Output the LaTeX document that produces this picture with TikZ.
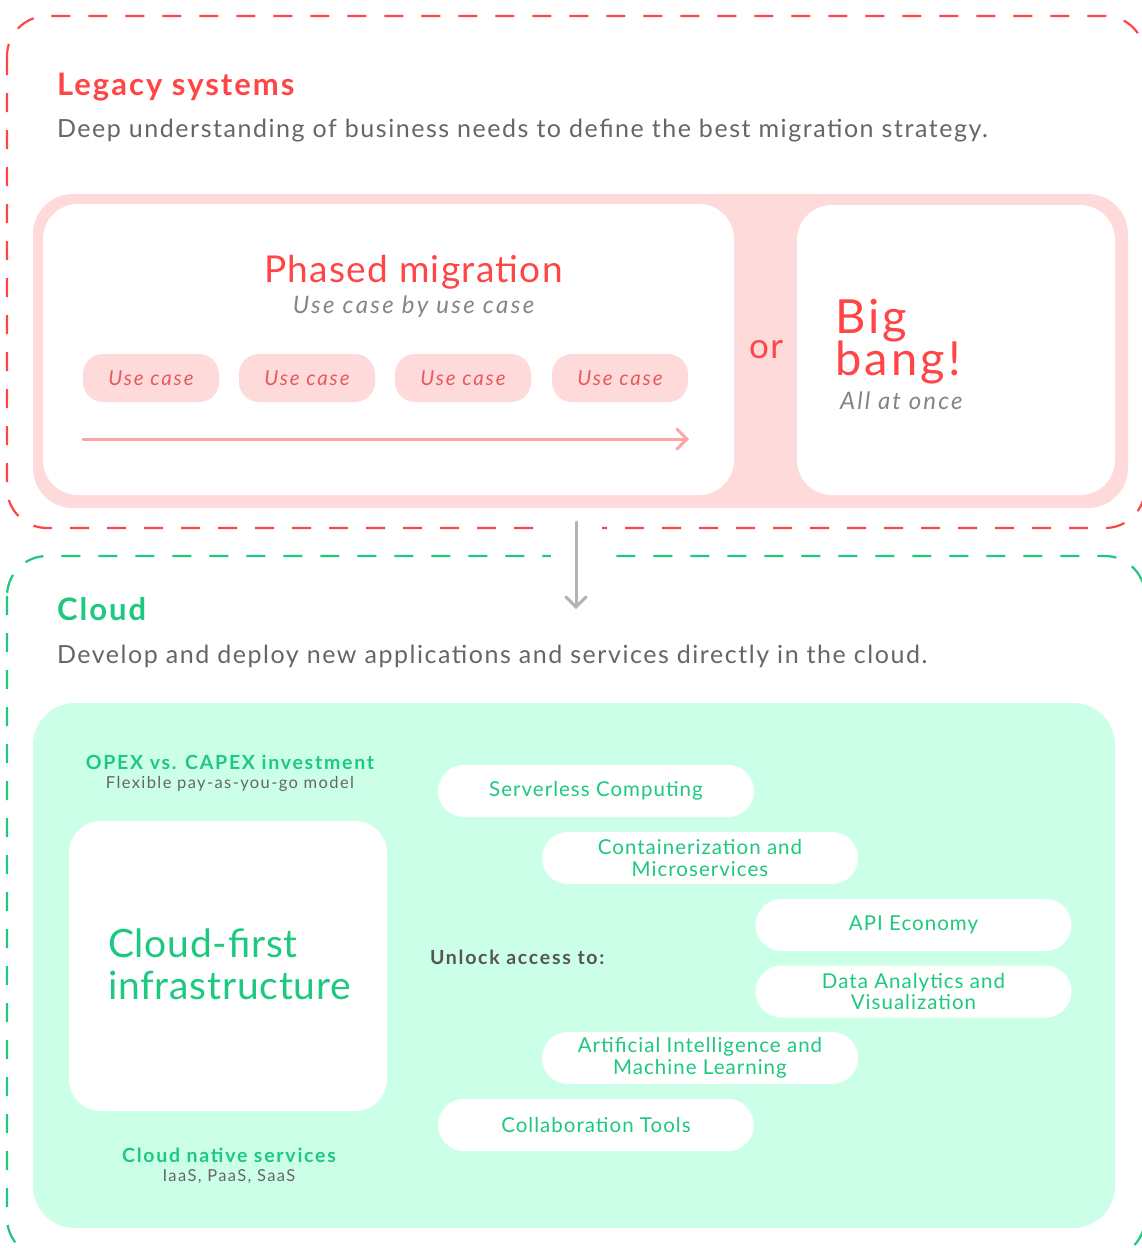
\documentclass[tikz,border=0pt]{standalone}
\usepackage{fontspec}
\setmainfont{Lato}[LetterSpace=5]
\usetikzlibrary{arrows.meta}
\definecolor{legred}{HTML}{FF4545}
\definecolor{pinkfill}{HTML}{FFDADA}
\definecolor{pinkarrow}{HTML}{FFA3A3}
\definecolor{usecasetxt}{HTML}{E65A5E}
\definecolor{cloudgreen}{HTML}{1CC97E}
\definecolor{mintfill}{HTML}{CCFFE8}
\definecolor{bodygray}{HTML}{666666}
\definecolor{subgray}{HTML}{858585}
\definecolor{darkgray}{HTML}{555555}
\definecolor{arrowgray}{HTML}{B3B3B3}
\newcommand{\ls}[1]{\addfontfeature{LetterSpace=#1}}
\newcommand{\twolines}[3]{\vtop{\baselineskip=#1\lineskiplimit=-100pt\hbox{#2}\hbox{#3}}}
\begin{document}
\begin{tikzpicture}[x=1pt,y=-1pt,
  every node/.style={inner sep=0pt, outer sep=0pt},
  dashframe/.style={line width=2.2pt, dash pattern=on 19pt off 18pt, rounded corners=40pt},
  usecasebox/.style={fill=pinkfill, rounded corners=20pt, minimum width=136pt, minimum height=48pt,
    text=usecasetxt, font=\itshape\fontsize{20.5}{24}\selectfont\ls{9}},
  pill/.style={fill=white, rounded corners=26pt, minimum width=316pt, minimum height=52pt,
    text=cloudgreen, align=center, font=\fontsize{20.5}{21.5}\selectfont\ls{5}},
  sectitle/.style={anchor=base west, font=\bfseries\fontsize{31}{36}\selectfont\ls{6.5}},
  secdesc/.style={anchor=base west, text=bodygray, font=\fontsize{25}{30}\selectfont\ls{6.2}},
  smallhead/.style={anchor=base, text=cloudgreen, font=\bfseries\fontsize{19.5}{22}\selectfont\ls{9}},
  smallsub/.style={anchor=base, text=bodygray, font=\fontsize{16.5}{19}\selectfont\ls{8.5}},
  flowarrow/.style={line width=3pt, line cap=round, -{Straight Barb[length=10pt,width=20pt,line cap=round]}}
]
\useasboundingbox (0,0) rectangle (1142,1248);
\clip (0,0) rectangle (1142,1248);
\fill[white] (0,0) rectangle (1142,1248);

% dashed section frames
\draw[dashframe, draw=legred] (7,16) rectangle (1145,528);
\draw[dashframe, draw=cloudgreen] (7,556) rectangle (1145,1258);

% ---------- Legacy systems ----------
\node[sectitle, text=legred] (legtitle) at (57,95) {Legacy systems};
\node[secdesc] (legdesc) at (57,137) {Deep understanding of business needs to define the best migration strategy.};

\node[fill=pinkfill, rounded corners=40pt, minimum width=1095pt, minimum height=314pt] (pinkframe) at (580.5,351) {};
\node[fill=white, rounded corners=35pt, minimum width=691pt, minimum height=291pt] (phasedbox) at (388.5,349.5) {};
\node[fill=white, rounded corners=35pt, minimum width=318pt, minimum height=290pt] (bigbox) at (956,350) {};

\node[anchor=base, text=legred, font=\fontsize{37}{44}\selectfont\ls{3.6}] (phasedtitle) at (413.5,282) {Phased migration};
\node[anchor=base, text=subgray, font=\itshape\fontsize{24}{28}\selectfont\ls{10}] (phasedsub) at (413.5,313) {Use case by use case};

\node[usecasebox] (uc1) at (151,378) {Use case};
\node[usecasebox] (uc2) at (307,378) {Use case};
\node[usecasebox] (uc3) at (463,378) {Use case};
\node[usecasebox] (uc4) at (620,378) {Use case};

\coordinate (phstart) at (83,439);
\coordinate (phend) at (689,439);
\draw[flowarrow, draw=pinkarrow] (phstart) -- (phend);

\node[anchor=base, text=legred, font=\fontsize{35}{40}\selectfont\ls{4}] (ortext) at (766,358) {or};

\node[anchor=base west, text=legred, font=\fontsize{47}{50}\selectfont\ls{6.8}] (bigbang) at (835,333) {\twolines{42pt}{Big}{bang!}};
\node[anchor=base west, text=subgray, font=\itshape\fontsize{24}{28}\selectfont\ls{9}] (allonce) at (840,409) {All at once};

% ---------- connector between sections ----------
\fill[white] (551,518) rectangle (602,566);
\coordinate (dstart) at (576,522);
\coordinate (dend) at (576,609);
\draw[flowarrow, draw=arrowgray] (dstart) -- (dend);

% ---------- Cloud ----------
\node[sectitle, text=cloudgreen] (cloudtitle) at (57,620) {Cloud};
\node[secdesc] (clouddesc) at (57,663) {Develop and deploy new applications and services directly in the cloud.};

\node[fill=mintfill, rounded corners=42pt, minimum width=1082pt, minimum height=525pt] (mintpanel) at (574,965.5) {};
\node[fill=white, rounded corners=32pt, minimum width=318pt, minimum height=290pt] (cfbox) at (228,966) {};

\node[anchor=base west, text=cloudgreen, font=\fontsize{39}{44}\selectfont\ls{2}] (cloudfirst) at (108,957) {\twolines{42pt}{Cloud-first}{infrastructure}};

\node[smallhead] (opex) at (230,769) {OPEX vs. CAPEX investment};
\node[smallsub] (opexsub) at (230,788) {Flexible pay-as-you-go model};
\node[smallhead] (native) at (229,1162) {Cloud native services};
\node[smallsub] (nativesub) at (229,1181) {IaaS, PaaS, SaaS};

\node[anchor=base west, text=darkgray, font=\bfseries\fontsize{19.5}{22}\selectfont\ls{9}] (unlock) at (430,964) {Unlock access to:};

\node[pill] (serverless) at (596,791) {Serverless Computing};
\node[pill] (containers) at (700,858) {Containerization and\\Microservices};
\node[pill] (api) at (913.5,925) {API Economy};
\node[pill] (data) at (913.5,991.5) {Data Analytics and\\Visualization};
\node[pill] (ai) at (700,1058) {Artificial Intelligence and\\Machine Learning};
\node[pill] (collab) at (596,1125) {Collaboration Tools};
\end{tikzpicture}
\end{document}
